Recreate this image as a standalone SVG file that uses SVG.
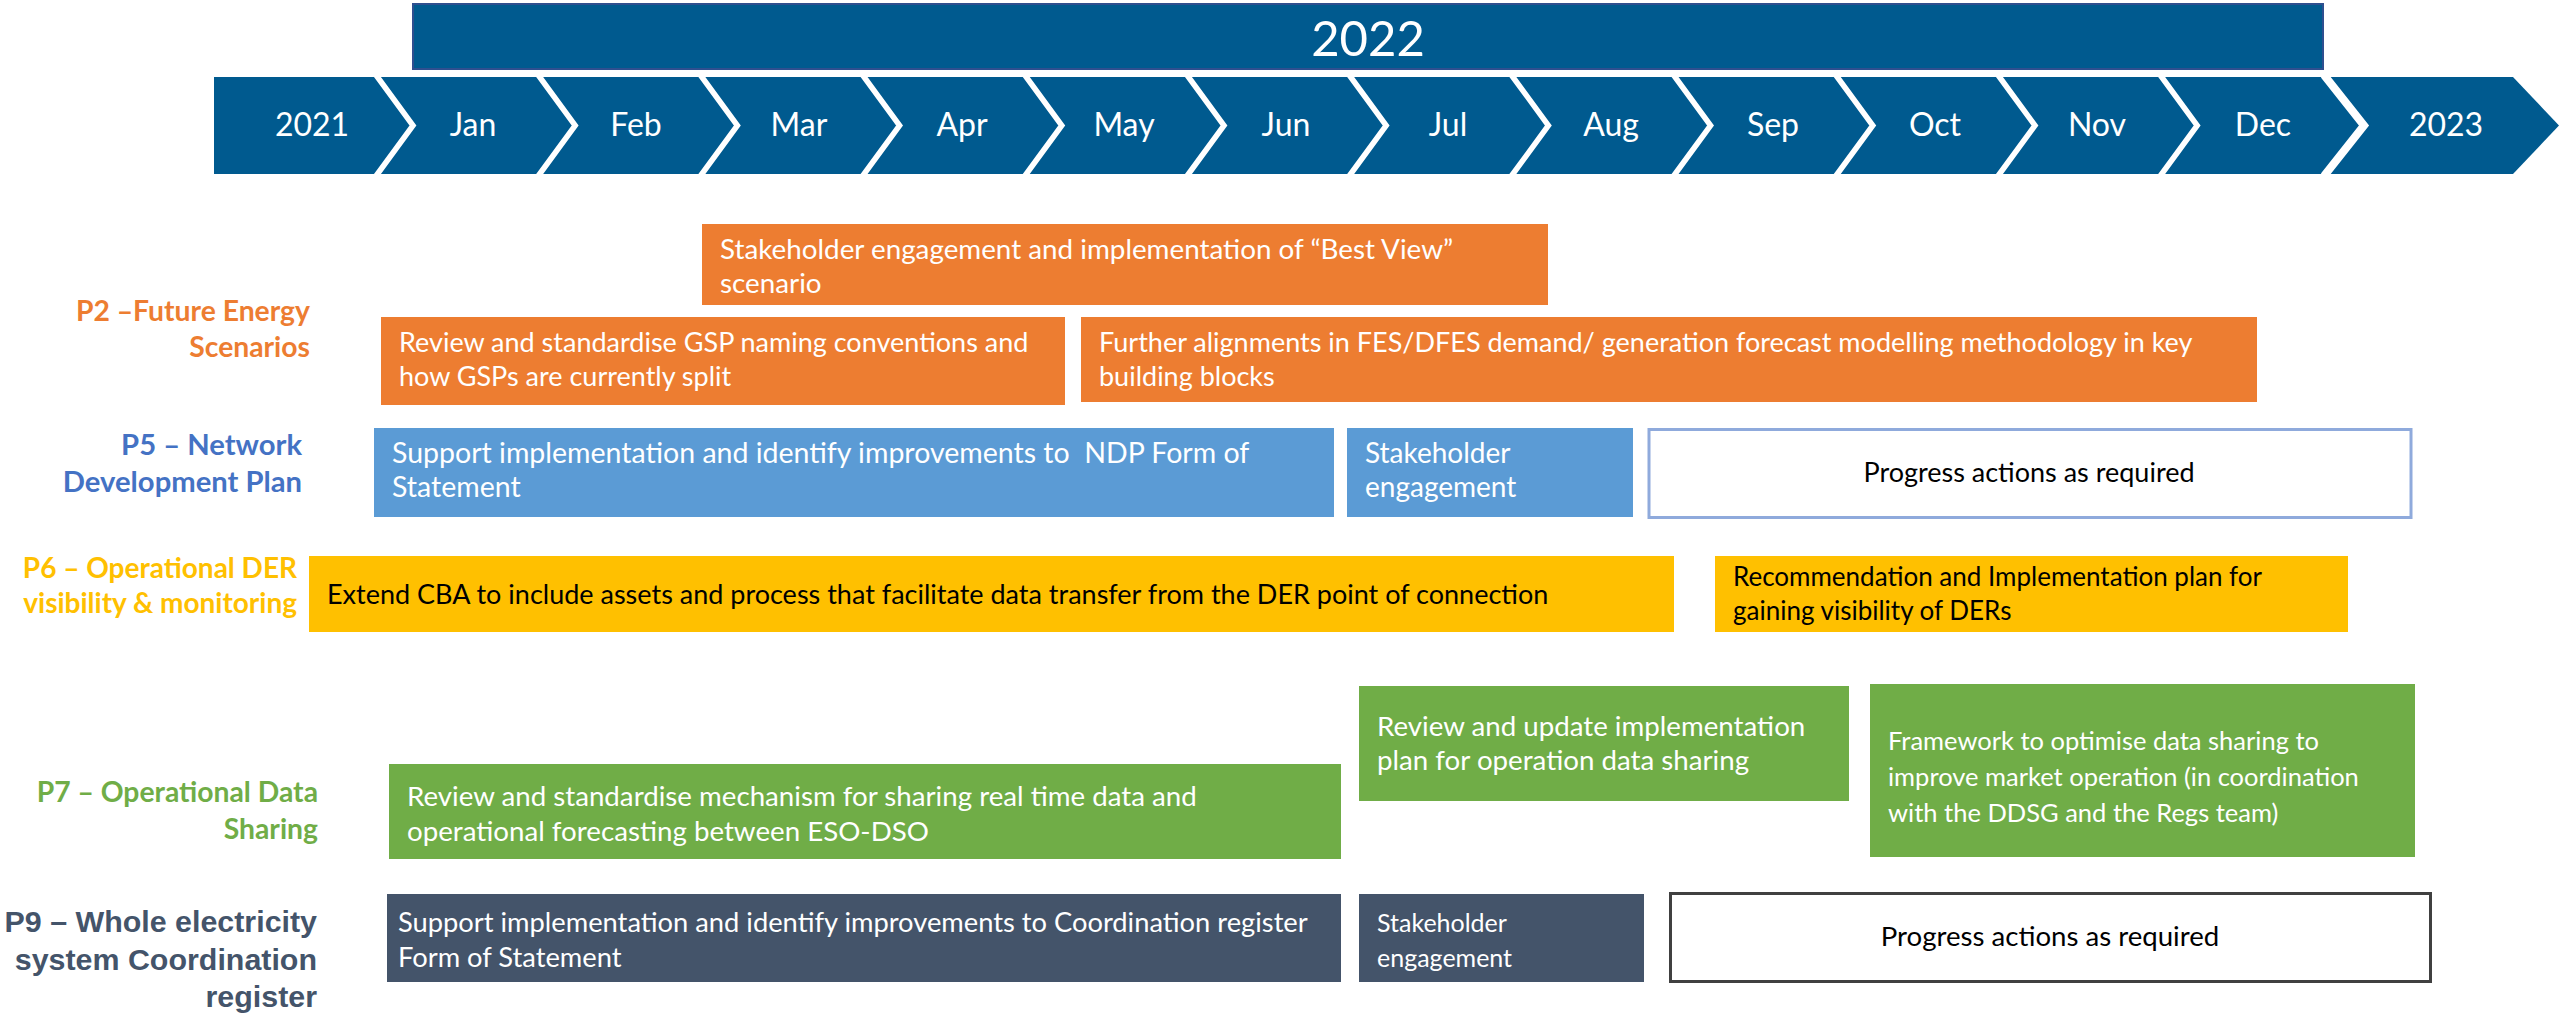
<svg xmlns="http://www.w3.org/2000/svg" width="2560" height="1014" viewBox="0 0 2560 1014">
<style>
text{font-family:Lato,"Open Sans","Liberation Sans",sans-serif}
.chev{fill:#005A8F}
.div{fill:none;stroke:#FFFFFF;stroke-width:5.5}
.mon{font-size:32px;fill:#FFFFFF;text-anchor:middle}
.yr{font-size:49px;fill:#FFFFFF;text-anchor:middle}
.lbl{font-size:28.3px;font-weight:bold;text-anchor:end}
.p9{font-family:"Liberation Sans",Arial,sans-serif;font-size:30.4px;font-weight:bold;text-anchor:end;fill:#44546A}
.bt{font-size:27px}
.w{fill:#FFFFFF}
.k{fill:#000000}
.or{fill:#ED7D31}
.bl{fill:#5B9BD5}
.ye{fill:#FFC000}
.gr{fill:#70AD47}
.dk{fill:#44546A}
.mid{text-anchor:middle}
</style>
<g id="timeline">
<rect x="413" y="4" width="1910" height="65" fill="#005A8F" stroke="#2F4F8F" stroke-width="2"/>
<text class="yr" x="1368" y="56">2022</text>
<polygon class="chev" points="214,77 2513,77 2559,125.5 2513,174 214,174"/>
<polyline class="div" points="376,75 413,125.5 376,176"/>
<polyline class="div" points="538.2,75 575.2,125.5 538.2,176"/>
<polyline class="div" points="700.4,75 737.4,125.5 700.4,176"/>
<polyline class="div" points="862.6,75 899.6,125.5 862.6,176"/>
<polyline class="div" points="1024.8,75 1061.8,125.5 1024.8,176"/>
<polyline class="div" points="1187,75 1224,125.5 1187,176"/>
<polyline class="div" points="1349.2,75 1386.2,125.5 1349.2,176"/>
<polyline class="div" points="1511.4,75 1548.4,125.5 1511.4,176"/>
<polyline class="div" points="1673.6,75 1710.6,125.5 1673.6,176"/>
<polyline class="div" points="1835.8,75 1872.8,125.5 1835.8,176"/>
<polyline class="div" points="1998,75 2035,125.5 1998,176"/>
<polyline class="div" points="2160.2,75 2197.2,125.5 2160.2,176"/>
<polyline class="div" points="2324,75 2364,125.5 2324,176" style="stroke-width:8"/>
<text class="mon" x="312" y="136">2021</text>
<text class="mon" x="473" y="136">Jan</text>
<text class="mon" x="636" y="136">Feb</text>
<text class="mon" x="799" y="136">Mar</text>
<text class="mon" x="962" y="136">Apr</text>
<text class="mon" x="1124" y="136">May</text>
<text class="mon" x="1286" y="136">Jun</text>
<text class="mon" x="1448" y="136">Jul</text>
<text class="mon" x="1611" y="136">Aug</text>
<text class="mon" x="1773" y="136">Sep</text>
<text class="mon" x="1935" y="136">Oct</text>
<text class="mon" x="2097" y="136">Nov</text>
<text class="mon" x="2263" y="136">Dec</text>
<text class="mon" x="2446" y="136">2023</text>
</g>
<g id="label-p2"><text class="lbl" fill="#ED7D31"><tspan x="310" y="321">P2 –Future Energy</tspan><tspan x="310" y="357">Scenarios</tspan></text></g>
<g id="label-p5"><text class="lbl" fill="#4472C4" style="font-size:29.2px"><tspan x="302" y="455">P5 – Network</tspan><tspan x="302" y="492">Development Plan</tspan></text></g>
<g id="label-p6"><text class="lbl" fill="#FFC000" style="font-size:28px"><tspan x="297" y="578">P6 – Operational DER</tspan><tspan x="297" y="613">visibility &amp; monitoring</tspan></text></g>
<g id="label-p7"><text class="lbl" fill="#70AD47"><tspan x="318" y="802">P7 – Operational Data</tspan><tspan x="318" y="839">Sharing</tspan></text></g>
<g id="label-p9"><text class="p9"><tspan x="317" y="932">P9 – Whole electricity</tspan><tspan x="317" y="970">system Coordination</tspan><tspan x="317" y="1007">register</tspan></text></g>
<g id="p2-best-view"><rect class="or" x="702" y="224" width="846" height="81"/><text class="bt w" style="font-size:27.8px"><tspan x="720" y="259">Stakeholder engagement and implementation of “Best View”</tspan><tspan x="720" y="293">scenario</tspan></text></g>
<g id="p2-gsp"><rect class="or" x="381" y="317" width="684" height="88"/><text class="bt w"><tspan x="399" y="352">Review and standardise GSP naming conventions and</tspan><tspan x="399" y="386">how GSPs are currently split</tspan></text></g>
<g id="p2-fes"><rect class="or" x="1081" y="317" width="1176" height="85"/><text class="bt w"><tspan x="1099" y="352">Further alignments in FES/DFES demand/ generation forecast modelling methodology in key</tspan><tspan x="1099" y="386">building blocks</tspan></text></g>
<g id="p5-ndp"><rect class="bl" x="374" y="428" width="960" height="89"/><text class="bt w" style="font-size:28.5px"><tspan x="392" y="463">Support implementation and identify improvements to&#160; NDP Form of</tspan><tspan x="392" y="497">Statement</tspan></text></g>
<g id="p5-stakeholder"><rect class="bl" x="1347" y="428" width="286" height="89"/><text class="bt w" style="font-size:28px"><tspan x="1365" y="463">Stakeholder</tspan><tspan x="1365" y="497">engagement</tspan></text></g>
<g id="p5-progress"><rect x="1649" y="429.5" width="762" height="88" fill="#FFFFFF" stroke="#8FAADC" stroke-width="3"/><text class="bt k mid" x="2029" y="482">Progress actions as required</text></g>
<g id="p6-cba"><rect class="ye" x="309" y="556" width="1365" height="76"/><text class="bt k" x="327" y="604">Extend CBA to include assets and process that facilitate data transfer from the DER point of connection</text></g>
<g id="p6-recommendation"><rect class="ye" x="1715" y="556" width="633" height="76"/><text class="bt k" style="font-size:26px"><tspan x="1733" y="586">Recommendation and Implementation plan for</tspan><tspan x="1733" y="620">gaining visibility of DERs</tspan></text></g>
<g id="p7-update"><rect class="gr" x="1359" y="686" width="490" height="115"/><text class="bt w" style="font-size:27.7px"><tspan x="1377" y="736">Review and update implementation</tspan><tspan x="1377" y="770">plan for operation data sharing</tspan></text></g>
<g id="p7-framework"><rect class="gr" x="1870" y="684" width="545" height="173"/><text class="bt w" style="font-size:25.5px"><tspan x="1888" y="750">Framework to optimise data sharing to</tspan><tspan x="1888" y="786">improve market operation (in coordination</tspan><tspan x="1888" y="822">with the DDSG and the Regs team)</tspan></text></g>
<g id="p7-mechanism"><rect class="gr" x="389" y="764" width="952" height="95"/><text class="bt w" style="font-size:27.7px"><tspan x="407" y="806">Review and standardise mechanism for sharing real time data and</tspan><tspan x="407" y="841">operational forecasting between ESO-DSO</tspan></text></g>
<g id="p9-register"><rect class="dk" x="387" y="894" width="954" height="88"/><text class="bt w" style="font-size:27.3px"><tspan x="398" y="932">Support implementation and identify improvements to Coordination register</tspan><tspan x="398" y="967">Form of Statement</tspan></text></g>
<g id="p9-stakeholder"><rect class="dk" x="1359" y="894" width="285" height="88"/><text class="bt w" style="font-size:25px"><tspan x="1377" y="932">Stakeholder</tspan><tspan x="1377" y="967">engagement</tspan></text></g>
<g id="p9-progress"><rect x="1670.5" y="893.5" width="760" height="88" fill="#FFFFFF" stroke="#404040" stroke-width="3"/><text class="bt k mid" x="2050" y="946" style="font-size:27.6px">Progress actions as required</text></g>
</svg>
